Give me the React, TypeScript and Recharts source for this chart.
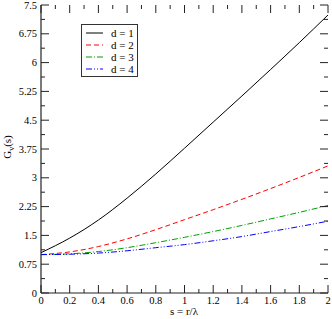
import React from 'react';
import { LineChart, Line, XAxis, YAxis, Legend } from 'recharts';

const sValues = [0, 0.2, 0.4, 0.6, 0.8, 1.0, 1.2, 1.4, 1.6, 1.8, 2.0];
const d1 = [1.05, 1.43, 1.9, 2.47, 3.1, 3.77, 4.45, 5.13, 5.82, 6.52, 7.24];
const d2 = [1.0, 1.07, 1.21, 1.41, 1.65, 1.91, 2.17, 2.44, 2.72, 3.01, 3.31];
const d3 = [1.0, 1.02, 1.08, 1.18, 1.31, 1.45, 1.6, 1.76, 1.93, 2.1, 2.28];
const d4 = [1.0, 1.01, 1.04, 1.1, 1.18, 1.26, 1.36, 1.47, 1.6, 1.73, 1.87];

const xTicks = [0, 0.1, 0.2, 0.3, 0.4, 0.5, 0.6, 0.7, 0.8, 0.9, 1.0, 1.1, 1.2, 1.3, 1.4, 1.5, 1.6, 1.7, 1.8, 1.9, 2.0];
const xMajor = [0, 0.2, 0.4, 0.6, 0.8, 1.0, 1.2, 1.4, 1.6, 1.8, 2.0];
const xLabels = ['0', '0.2', '0.4', '0.6', '0.8', '1', '1.2', '1.4', '1.6', '1.8', '2'];
const yTicks = [0, 0.375, 0.75, 1.125, 1.5, 1.875, 2.25, 2.625, 3, 3.375, 3.75, 4.125, 4.5, 4.875, 5.25, 5.625, 6, 6.375, 6.75, 7.125, 7.5];
const yMajor = [0, 0.75, 1.5, 2.25, 3, 3.75, 4.5, 5.25, 6, 6.75, 7.5];
const yLabels = ['0', '0.75', '1.5', '2.25', '3', '3.75', '4.5', '5.25', '6', '6.75', '7.5'];

const seriesNames = ['d = 1', 'd = 2', 'd = 3', 'd = 4'];
const seriesKeys = ['d1', 'd2', 'd3', 'd4'];
const seriesColors = ['#000000', '#ff0000', '#00a000', '#0000ff'];
const seriesDash = ['', '5 3', '6 2 1 2', '6 2 1 2 1 2'];

const data = sValues.map((s, i) => ({ s, d1: d1[i], d2: d2[i], d3: d3[i], d4: d4[i] }));

const FONT = "'Liberation Serif', serif";
const AXIS = '#222';
const PLOT_W = 287;
const PLOT_H = 288;

const isMajor = (v: number, majors: number[]) => majors.some((m) => Math.abs(m - v) < 1e-6);
const labelFor = (v: number, majors: number[], labels: string[]) => {
  const i = majors.findIndex((m) => Math.abs(m - v) < 1e-6);
  return i >= 0 ? labels[i] : '';
};

const BottomTick = (props: any) => {
  const { x, y, payload } = props;
  const v = payload.value;
  const major = isMajor(v, xMajor);
  const len = major ? 8 : 4;
  return (
    <g>
      <line x1={x} y1={y} x2={x} y2={y - len} stroke={AXIS} strokeWidth={1} />
      <line x1={x} y1={y - PLOT_H} x2={x} y2={y - PLOT_H + len} stroke={AXIS} strokeWidth={1} />
      {major && (
        <text x={x} y={y + 11} textAnchor="middle" fontFamily={FONT} fontSize={10.5} fill="#000">
          {labelFor(v, xMajor, xLabels)}
        </text>
      )}
    </g>
  );
};

const LeftTick = (props: any) => {
  const { x, y, payload } = props;
  const v = payload.value;
  const major = isMajor(v, yMajor);
  const len = major ? 8 : 4;
  return (
    <g>
      <line x1={x} y1={y} x2={x + len} y2={y} stroke={AXIS} strokeWidth={1} />
      <line x1={x + PLOT_W} y1={y} x2={x + PLOT_W - len} y2={y} stroke={AXIS} strokeWidth={1} />
      {major && (
        <text x={x - 4} y={y + 3.5} textAnchor="end" fontFamily={FONT} fontSize={10.5} fill="#000">
          {labelFor(v, yMajor, yLabels)}
        </text>
      )}
    </g>
  );
};

const YTitle = () => (
  <text
    x={0}
    y={0}
    transform="translate(11,147) rotate(-90)"
    textAnchor="middle"
    fontFamily={FONT}
    fontSize={11}
    fill="#000"
  >
    <tspan>G</tspan>
    <tspan fontSize={8} dy={3}>v</tspan>
    <tspan dy={-3}>(s)</tspan>
  </text>
);

const XTitle = () => (
  <text x={184} y={315} textAnchor="middle" fontFamily={FONT} fontSize={11} fill="#000">
    s = r/λ
  </text>
);

const LegendBox = () => (
  <div
    style={{
      width: 55,
      height: 51,
      border: '1.5px solid #333',
      background: '#fff',
      boxSizing: 'content-box',
    }}
  >
    <svg width={55} height={51} style={{ display: 'block' }}>
      {seriesNames.map((n, i) => (
        <g key={n}>
          <line
            x1={4}
            x2={21}
            y1={8 + i * 12}
            y2={8 + i * 12}
            stroke={seriesColors[i]}
            strokeDasharray={seriesDash[i] || undefined}
            strokeWidth={1}
          />
          <text x={29} y={12 + i * 12} fontFamily={FONT} fontSize={11} fill="#000">
            {n}
          </text>
        </g>
      ))}
    </svg>
  </div>
);

export default function App() {
  return (
    <div style={{ position: 'absolute', left: 0, top: 0, background: '#fff' }}>
      <LineChart width={332} height={319} data={data} margin={{ top: 5, right: 4, left: 0, bottom: 0 }}>
        <XAxis
          dataKey="s"
          type="number"
          domain={[0, 2]}
          ticks={xTicks}
          interval={0}
          height={26}
          tickSize={0}
          tickMargin={0}
          tickLine={false}
          axisLine={{ stroke: AXIS, strokeWidth: 1.2 }}
          tick={<BottomTick />}
        />
        <XAxis
          xAxisId="top"
          orientation="top"
          type="number"
          domain={[0, 2]}
          height={0}
          tickLine={false}
          tick={false}
          axisLine={{ stroke: AXIS, strokeWidth: 1.2 }}
        />
        <YAxis
          type="number"
          domain={[0, 7.5]}
          ticks={yTicks}
          interval={0}
          width={41}
          tickSize={0}
          tickMargin={0}
          tickLine={false}
          axisLine={{ stroke: AXIS, strokeWidth: 1.2 }}
          tick={<LeftTick />}
        />
        <YAxis
          yAxisId="right"
          orientation="right"
          type="number"
          domain={[0, 7.5]}
          width={0}
          tickLine={false}
          tick={false}
          axisLine={{ stroke: AXIS, strokeWidth: 1.2 }}
        />
        {seriesKeys.map((k, i) => (
          <Line
            key={k}
            dataKey={k}
            name={seriesNames[i]}
            type="monotone"
            stroke={seriesColors[i]}
            strokeDasharray={seriesDash[i] || undefined}
            strokeWidth={1}
            dot={false}
            activeDot={false}
            isAnimationActive={false}
          />
        ))}
        <Legend
          layout="vertical"
          align="center"
          verticalAlign="middle"
          wrapperStyle={{ left: 81, top: 24, width: 58, height: 54 }}
          content={() => <LegendBox />}
        />
        <YTitle />
        <XTitle />
      </LineChart>
    </div>
  );
}
